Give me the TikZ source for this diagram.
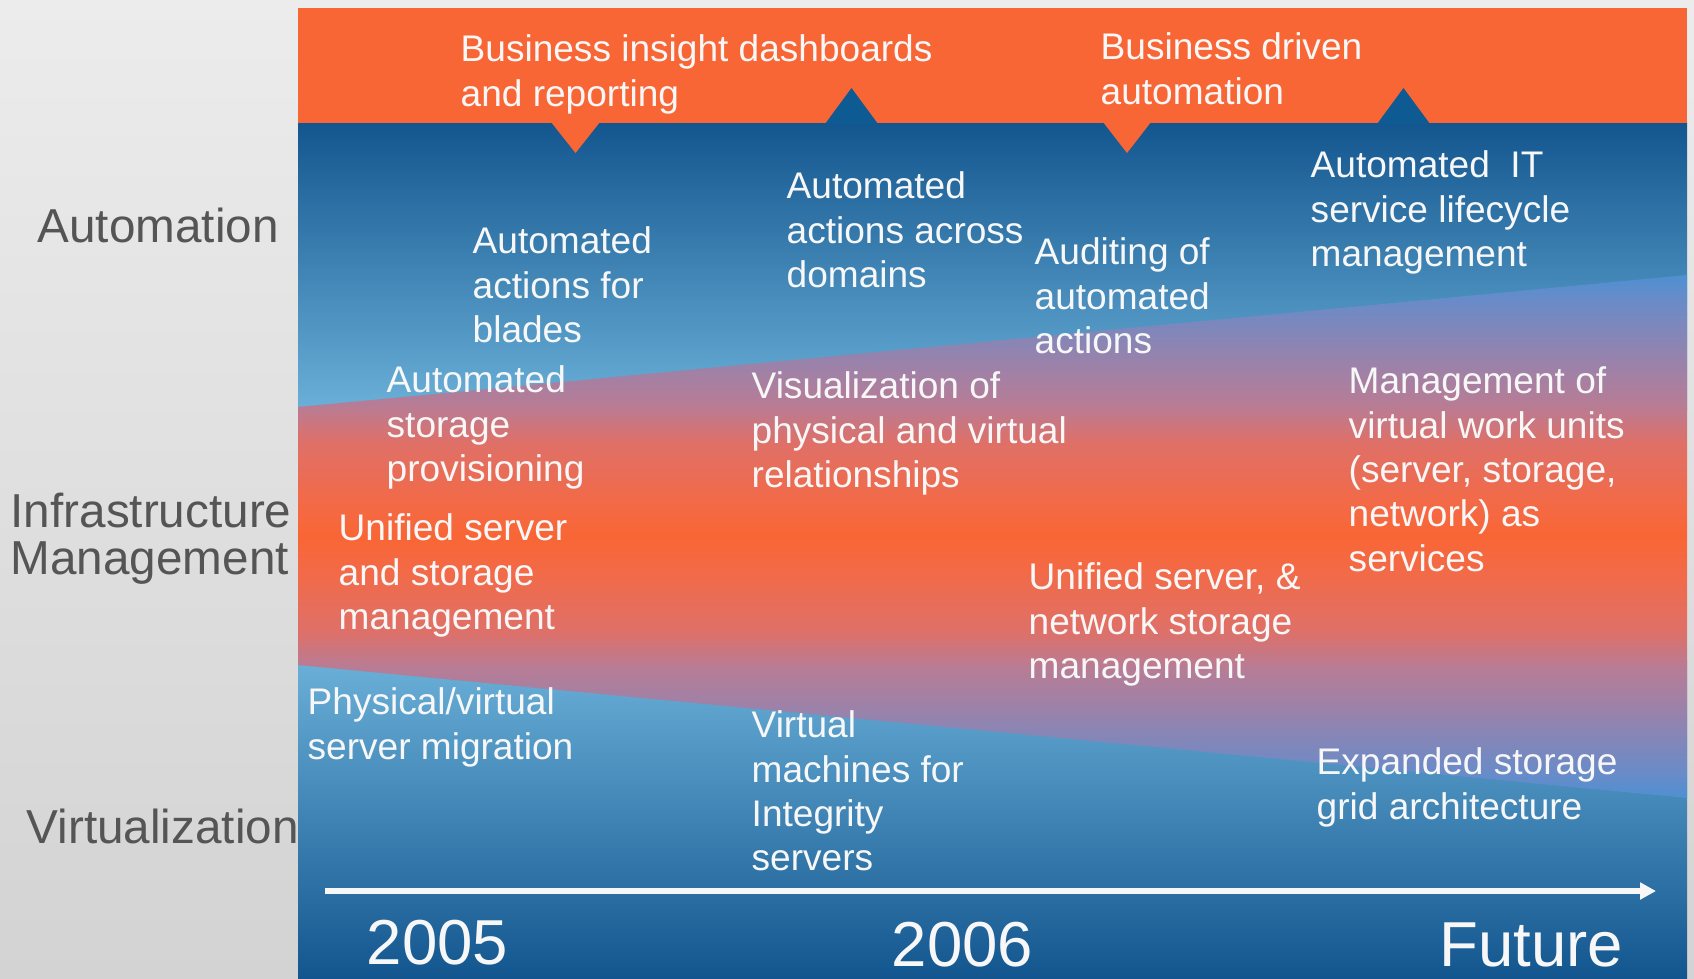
\documentclass[tikz,border=0pt]{standalone}
\usepackage{fontspec}
\setmainfont{Liberation Sans}
\usetikzlibrary{arrows.meta}
\definecolor{bgtop}{HTML}{ECECEC}
\definecolor{bgbot}{HTML}{D3D3D3}
\definecolor{hporange}{HTML}{F96635}
\definecolor{darkblue}{HTML}{13568F}
\definecolor{lightblue}{HTML}{6AB0D8}
\definecolor{bandblue}{HTML}{4F90D2}
\definecolor{bandA}{HTML}{6A8BC8}
\definecolor{bandB}{HTML}{9B82AA}
\definecolor{bandC}{HTML}{B87C95}
\definecolor{bandD}{HTML}{DF7068}
\definecolor{bandE}{HTML}{F26A48}
\definecolor{tipblue}{HTML}{0E5A93}
\definecolor{labelgray}{HTML}{555555}
\definecolor{txt}{HTML}{F7F7F7}
\pgfdeclareverticalshading{bandshade}{100bp}{%
  color(0bp)=(bandblue); color(25bp)=(bandblue); color(27.5bp)=(bandA);
  color(33.5bp)=(bandB); color(37.5bp)=(bandC); color(41bp)=(bandD);
  color(46.5bp)=(bandE); color(50bp)=(hporange); color(53.5bp)=(bandE);
  color(59bp)=(bandD); color(62.5bp)=(bandC); color(66.5bp)=(bandB);
  color(72.5bp)=(bandA); color(75bp)=(bandblue); color(100bp)=(bandblue)}
\begin{document}
\begin{tikzpicture}[x=0.28335pt,y=-0.28335pt,
  lbl/.style={anchor=north west, inner sep=0pt, align=left, text=txt,
    font=\fontsize{10.5}{12.6}\selectfont},
  yearlbl/.style={anchor=base west, inner sep=0pt, text=txt,
    font=\fontsize{18}{20}\selectfont},
  rowlbl/.style={anchor=north west, inner sep=0pt, align=left, text=labelgray,
    font=\fontsize{13.5}{13.5}\selectfont}]
\useasboundingbox (0,0) rectangle (1694,978);
% background
\shade[top color=bgtop, bottom color=bgbot] (0,0) rectangle (1694,978);
% blue panel
\shade[top color=darkblue, bottom color=lightblue] (298,122) rectangle (1687,410);
\shade[top color=lightblue, bottom color=darkblue] (298,660) rectangle (1687,978);
% middle band
\shade[shading=bandshade]
  (298,407) -- (1687,275) -- (1687,798) -- (298,665) -- cycle;
% orange header
\fill[hporange] (298,8) rectangle (1687,123);
\fill[hporange] (551,122) -- (600,122) -- (575.5,153) -- cycle;
\fill[hporange] (1103,122) -- (1151,122) -- (1127,153) -- cycle;
\fill[tipblue] (825,124) -- (878,124) -- (851.5,88) -- cycle;
\fill[tipblue] (1377,124) -- (1430,124) -- (1403.5,88) -- cycle;
% row labels
\node[rowlbl] (rAuto) at (37,207.5) {Automation};
\node[rowlbl] (rInfra) at (10,492) {Infrastructure\\Management};
\node[rowlbl] (rVirt) at (26,808.5) {Virtualization};
% header texts
\node[lbl] (h1) at (460,34) {Business insight dashboards\\and reporting};
\node[lbl] (h2) at (1100,32) {Business driven\\automation};
% automation
\node[lbl] (a1) at (472,226) {Automated\\actions for\\blades};
\node[lbl] (a2) at (786,171) {Automated\\actions across\\domains};
\node[lbl] (a3) at (1034,237) {Auditing of\\automated\\actions};
\node[lbl] (a4) at (1310,150) {Automated\ \ IT\\service lifecycle\\management};
% infrastructure
\node[lbl] (i1) at (386,365) {Automated\\storage\\provisioning};
\node[lbl] (i2) at (751,371) {Visualization of\\physical and virtual\\relationships};
\node[lbl] (i3) at (1348,366) {Management of\\virtual work units\\(server, storage,\\network) as\\services};
\node[lbl] (i4) at (338,513) {Unified server\\and storage\\management};
\node[lbl] (i5) at (1028,562) {Unified server, \&\\network storage\\management};
% virtualization
\node[lbl] (v1) at (307,687) {Physical/virtual\\server migration};
\node[lbl] (v2) at (751,710) {Virtual\\machines for\\Integrity\\servers};
\node[lbl] (v3) at (1316,747) {Expanded storage\\grid architecture};
% timeline
\coordinate (t0) at (325,891);
\coordinate (t1) at (1656,891);
\draw[txt, line width=1.6pt, -{Triangle[length=4.5pt,width=4.6pt]}] (t0) -- (t1);
\node[yearlbl] (y1) at (366,964) {2005};
\node[yearlbl] (y2) at (891,966) {2006};
\node[yearlbl] (y3) at (1439,966) {Future};
\end{tikzpicture}
\end{document}
